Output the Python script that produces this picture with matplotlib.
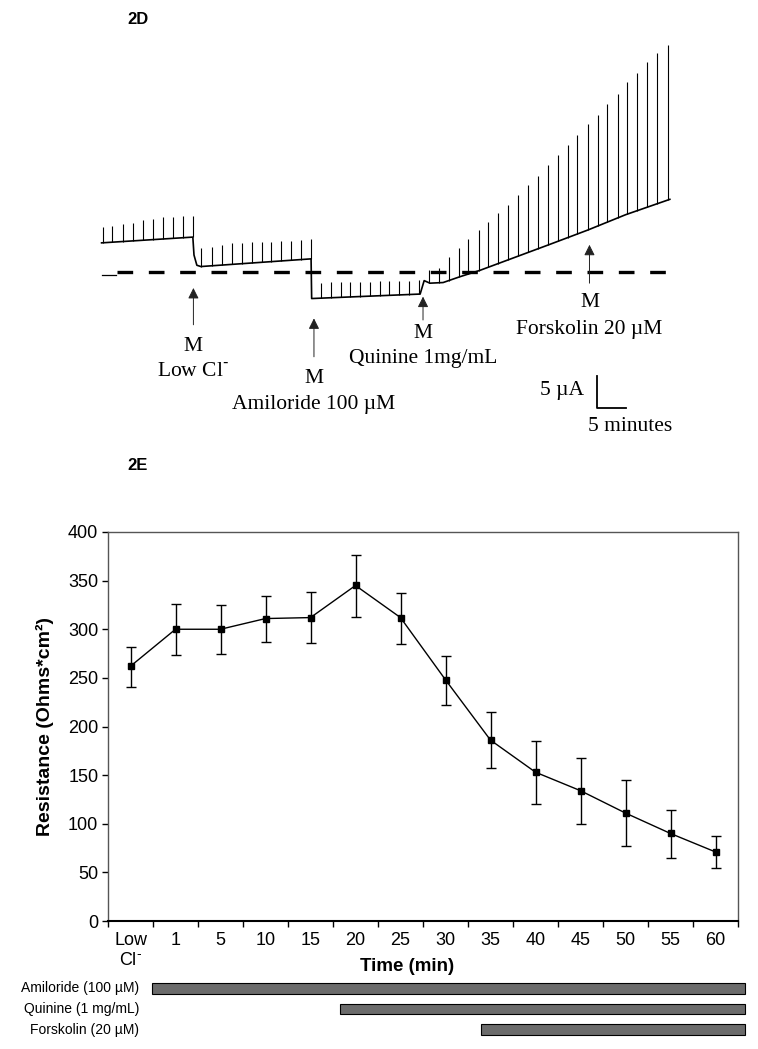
import numpy as np
import matplotlib
matplotlib.use("Agg")
from matplotlib import pyplot as plt

plt.rcParams['font.family'] = ['Liberation Sans', 'DejaVu Sans']
SERIF = ['Liberation Serif', 'DejaVu Serif']

# ---- panel 2D: short-circuit current trace (minutes, uA) ----
base_t = [0.1, 16.0, 16.2, 16.7, 17.4, 36.6, 36.7, 55.6, 56.3, 57.3, 59.6,
          62.5, 66.0, 71.4, 78.0, 84.8, 91.4, 99.1]
base_i = [4.6, 5.5, 2.7, 1.1, 0.9, 2.1, -4.1, -3.4, -1.3, -1.7, -1.6,
          -0.7, 0.3, 2.1, 4.3, 6.6, 9.0, 11.4]

spike_t = [0.3, 2.0, 3.8, 5.5, 7.3, 9.0, 10.8, 12.5, 14.2, 16.0,
           17.5, 19.3, 21.0, 22.8, 24.5, 26.3, 28.0, 29.7, 31.4, 33.1, 34.8, 36.6,
           38.4, 40.1, 41.8, 43.4, 45.2, 46.8, 48.6, 50.2, 52.0, 53.7, 55.4,
           57.1, 58.8, 60.6, 62.3, 64.0, 65.8, 67.4, 69.2, 70.9, 72.7, 74.4,
           76.1, 77.8, 79.6, 81.3, 83.0, 84.8, 86.5, 88.2, 90.0, 91.7, 93.4,
           95.2, 96.9, 98.8]
spike_top = [7.1, 7.3, 7.5, 7.75, 8.2, 8.3, 8.6, 8.7, 8.8, 8.8,
             3.75, 4.0, 4.27, 4.53, 4.63, 4.69, 4.78, 4.78, 4.89, 4.89, 5.05, 5.2,
             -1.6, -1.5, -1.5, -1.5, -1.45, -1.45, -1.35, -1.35, -1.3, -1.3, -1.2,
             0.3, 0.6, 2.4, 3.75, 5.2, 6.6, 7.9, 9.2, 10.5, 12.1, 13.6,
             15.0, 16.8, 18.3, 19.9, 21.5, 23.2, 24.6, 26.3, 27.8, 29.8, 31.2,
             32.8, 34.3, 35.5]

events = ['Low Cl$^{\\text{-}}$', 'Amiloride 100 µM', 'Quinine 1mg/mL', 'Forskolin 20 µM']
event_t = [16.1, 37.1, 56.1, 85.1]
arrow_tip = [-2.45, -7.2, -3.8, 4.3]
arrow_tail = [-8.2, -13.2, -7.45, -1.7]
m_y = [-11.6, -16.6, -9.5, -4.75]
label_y = [-15.5, -20.7, -13.4, -9.0]

# ---- panel 2E: resistance ----
times = ['Low\nCl$^{\\text{-}}$', '1', '5', '10', '15', '20', '25', '30', '35', '40',
         '45', '50', '55', '60']
resistance = [262, 300, 300, 311, 312, 345, 312, 248, 186, 153, 134, 111, 90, 71]
err_hi = [282, 326, 325, 334, 338, 376, 337, 273, 215, 185, 168, 145, 114, 87]
err_lo = [241, 274, 275, 287, 286, 313, 285, 222, 157, 120, 100, 77, 65, 54]

drugs = ['Amiloride (100 µM)', 'Quinine (1 mg/mL)', 'Forskolin (20 µM)']
drug_start = [0.48, 4.66, 7.79]
drug_end = [13.66, 13.66, 13.66]

W, H = 758, 1049
fig = plt.figure(figsize=(W / 100, H / 100), dpi=100)

# trace axes: 1 min = 5.74 px, 1 uA = 6.4 px
ax1 = fig.add_axes([60 / W, 1 - 450 / H, 660 / W, 420 / H])
ax1.set_xlim((60 - 101) / 5.74, (720 - 101) / 5.74)
ax1.set_ylim((272.3 - 450) / 6.4, (272.3 - 30) / 6.4)
ax1.axis('off')

ax1.plot([2.75, 98.8], [0, 0], color='black', lw=2.4, ls=(0, (4.7, 4.7)))
ax1.plot([0.1, 2.7], [-0.42, -0.42], color='black', lw=0.9)
ax1.plot(base_t, base_i, color='black', lw=1.2)
ax1.vlines(spike_t, np.interp(spike_t, base_t, base_i), spike_top,
           color='black', lw=0.8)

for name, t, tip, tail, my, ly in zip(events, event_t, arrow_tip, arrow_tail,
                                       m_y, label_y):
    ax1.annotate('', xy=(t, tip), xytext=(t, tail),
                 arrowprops=dict(arrowstyle='-|>', color='#222222', lw=0.7,
                                 mutation_scale=16, shrinkA=0, shrinkB=0))
    ax1.text(t, my, 'M', ha='center', va='center', fontsize=15.5, family=SERIF)
    ax1.text(t, ly, name, ha='center', va='center', fontsize=15.5, family=SERIF)

# scale bar 5 uA / 5 min
sb_t, sb_i = 86.4, -21.25
ax1.plot([sb_t, sb_t, sb_t + 5], [sb_i + 5, sb_i, sb_i], color='black', lw=1.3)
ax1.text(sb_t - 2.3, sb_i + 2.8, '5 µA', ha='right', va='center',
         fontsize=15.5, family=SERIF)
ax1.text(sb_t + 5.8, sb_i - 2.9, '5 minutes', ha='center', va='center',
         fontsize=15.5, family=SERIF)

fig.text(127 / W, 1 - 19 / H, '2D', fontsize=12, fontweight='bold', va='center')
fig.text(127 / W, 1 - 465 / H, '2E', fontsize=12, fontweight='bold', va='center')

# resistance axes
ax2 = fig.add_axes([108 / W, 1 - 921 / H, 630 / W, 389 / H])
x = np.arange(len(times))
yerr = [np.array(resistance) - np.array(err_lo), np.array(err_hi) - np.array(resistance)]
ax2.errorbar(x, resistance, yerr=yerr, color='black', lw=1.0, marker='s',
             markersize=5, elinewidth=1.0, capsize=3.5, capthick=1.0)
ax2.set_xlim(-0.5, len(times) - 0.5)
ax2.set_ylim(0, 400)
ax2.set_yticks(np.arange(0, 401, 50))
ax2.set_xticks(np.arange(-0.5, len(times), 1.0))
ax2.set_xticklabels([])
ax2.set_xticks(x, minor=True)
ax2.set_xticklabels(times, minor=True)
ax2.tick_params(axis='x', which='major', direction='out', length=4, width=1)
ax2.tick_params(axis='x', which='minor', length=0, pad=8, labelsize=13)
ax2.tick_params(axis='y', direction='out', length=4, width=1, pad=3, labelsize=13)
for s in ['top', 'right', 'left']:
    ax2.spines[s].set_color('#555555')
    ax2.spines[s].set_linewidth(1.0)
ax2.spines['bottom'].set_color('black')
ax2.spines['bottom'].set_linewidth(1.5)
ax2.set_ylabel('Resistance (Ohms*cm²)', fontsize=14, fontweight='bold')
ax2.yaxis.set_label_coords((54 - 108) / 630, 0.5)
ax2.set_xlabel('Time (min)', fontsize=13.5, fontweight='bold')
ax2.xaxis.set_label_coords((407 - 108) / 630, -(958 - 921) / 389)

# drug application bars
ax3 = fig.add_axes([108 / W, 1 - 1040 / H, 630 / W, 62 / H])
ax3.set_xlim(-0.5, len(times) - 0.5)
ax3.set_ylim(2.5, -0.5)
ax3.axis('off')
for i, (d, s, e) in enumerate(zip(drugs, drug_start, drug_end)):
    ax3.barh(i, e - s, left=s, height=0.53, color='#6b6b6b',
             edgecolor='black', lw=0.8, clip_on=False)
    ax3.text(0.2, i, d, ha='right', va='center', fontsize=10, clip_on=False)

fig.savefig('out.png', dpi=100)
